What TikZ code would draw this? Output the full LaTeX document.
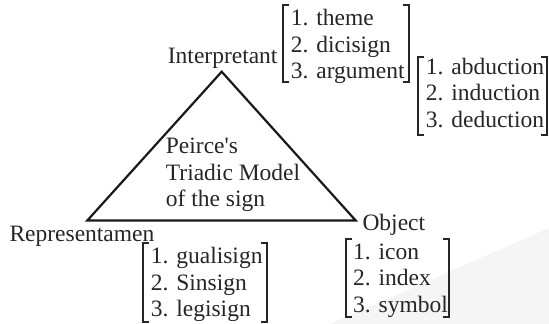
\documentclass[tikz,border=0pt]{standalone}
\usepackage{fontspec}
\setmainfont{Liberation Serif}
\begin{document}
\begin{tikzpicture}[x=1pt,y=1pt,
  lbl/.style={inner sep=0pt, anchor=base west, font=\fontsize{23.5}{26.5}\selectfont, text=black!85},
  lst/.style={lbl, align=left},
  brk/.style={inner sep=0pt, anchor=north west, draw=none},
  brkline/.style={line width=2.1pt, black!85},
  tri/.style={line width=2.2pt, black!90, line join=miter}]
\useasboundingbox (0,0) rectangle (549,324);
% faint watermark
\fill[black!4] (330,0) -- (549,96) -- (549,0) -- cycle;
% triangle
\coordinate (I) at (221.7,252.3);
\coordinate (R) at (87.3,103.5);
\coordinate (O) at (355.7,103.5);
\draw[tri] (I) -- (O) -- (R) -- cycle;
% labels
\node[lbl] (interp) at (167.7,260) {Interpretant};
\node[lst] (model) at (165.7,117) {Peirce\textquotesingle s\\Triadic Model\\of the sign};
\node[lbl] (repr) at (9.3,82.7) {Representamen};
\node[lbl] (obj) at (362.3,93.7) {Object};
% bracket boxes
\node[brk, minimum width=126pt, minimum height=76.7pt] (b1) at (283,319) {};
\node[brk, minimum width=128.7pt, minimum height=78.3pt] (b2) at (418,267.3) {};
\node[brk, minimum width=124pt, minimum height=78.6pt] (b3) at (142.7,81.3) {};
\node[brk, minimum width=103.3pt, minimum height=77.7pt] (b4) at (345.7,84.7) {};
\foreach \b in {b1,b2,b3,b4}{
  \draw[brkline] ([xshift=6pt]\b.north west) -| (\b.south west) -- ([xshift=6pt]\b.south west);
  \draw[brkline] ([xshift=-6pt]\b.north east) -| (\b.south east) -- ([xshift=-6pt]\b.south east);
}
% lists
\node[lst] (l1) at (290.7,245) {1. theme\\2. dicisign\\3. argument};
\node[lst] (l2) at (425.7,196.7) {1. abduction\\2. induction\\3. deduction};
\node[lst] (l3) at (150.7,7) {1. gualisign\\2. Sinsign\\3. legisign};
\node[lst] (l4) at (353,12) {1. icon\\2. index\\3. symbol};
\end{tikzpicture}
\end{document}
